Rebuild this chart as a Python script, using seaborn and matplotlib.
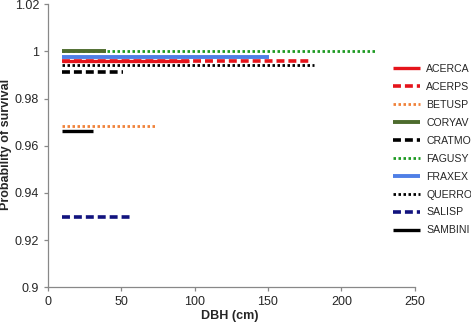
import pandas as pd
import numpy as np
import matplotlib
matplotlib.use('Agg')
import matplotlib.pyplot as plt
import seaborn as sns

sns.set_style('white')
plt.rcParams['font.family'] = ['Liberation Sans', 'DejaVu Sans']

# species, survival probability and DBH range
species = ['ACERCA', 'ACERPS', 'BETUSP', 'CORYAV', 'CRATMO',
           'FAGUSY', 'FRAXEX', 'QUERRO', 'SALISP', 'SAMBINI']
surv = [0.996, 0.996, 0.9685, 1.0, 0.9913, 1.0, 0.9977, 0.9944, 0.9297, 0.9663]
dbh_min = [10, 10, 10, 10, 10, 10, 10, 10, 10, 10]
dbh_max = [96, 179, 74, 40, 51, 223, 151, 181, 56, 31]

colors = ['#e5141b', '#e5141b', '#f0823a', '#4d6b2d', '#000000',
          '#1d9a22', '#4f7fe6', '#000000', '#11137e', '#000000']
styles = ['-', (0, (2.2, 1.1)), (0, (0.9, 0.9)), '-', (0, (2.2, 1.1)),
          (0, (0.9, 0.9)), '-', (0, (0.9, 0.9)), (0, (2.2, 1.1)), '-']
widths = [2.4, 2.6, 2.0, 2.8, 2.6, 2.0, 2.8, 2.0, 2.6, 2.4]

rows = []
for s, p, a, b in zip(species, surv, dbh_min, dbh_max):
    rows.append({'Species': s, 'DBH': a, 'P': p})
    rows.append({'Species': s, 'DBH': b, 'P': p})
df = pd.DataFrame(rows)

fig = plt.figure(figsize=(4.71, 3.25), dpi=100)
ax = fig.add_axes([0.101, 0.116, 0.780, 0.871])

# draw order so the blue line sits over the red ones like the original
order = [5, 3, 6, 0, 1, 7, 4, 2, 9, 8]
for i in order:
    sub = df[df['Species'] == species[i]]
    sns.lineplot(data=sub, x='DBH', y='P', ax=ax, color=colors[i],
                 linestyle=styles[i], linewidth=widths[i], label=species[i],
                 solid_capstyle='butt', dash_capstyle='butt')

ax.set_xlim(0, 250)
ax.set_ylim(0.9, 1.02)
ax.set_xticks([0, 50, 100, 150, 200, 250])
ax.set_yticks([0.9, 0.92, 0.94, 0.96, 0.98, 1.0, 1.02])
ax.set_yticklabels(['0.9', '0.92', '0.94', '0.96', '0.98', '1', '1.02'])
ax.tick_params(labelsize=9, length=3, width=0.9, color='#888888',
               direction='out', bottom=True, left=True, pad=3)
ax.set_xlabel('DBH (cm)', fontsize=9, fontweight='bold', va='center')
ax.set_ylabel('Probability of survival', fontsize=9, fontweight='bold',
              va='center')
ax.xaxis.set_label_coords(0.497, -0.102)
ax.yaxis.set_label_coords(-0.113, 0.506)
sns.despine(ax=ax)
for sp in ['left', 'bottom']:
    ax.spines[sp].set_color('#888888')
    ax.spines[sp].set_linewidth(0.9)

# legend in original species order
h, l = ax.get_legend_handles_labels()
lookup = dict(zip(l, h))
ax.legend([lookup[s] for s in species], species, loc='upper left',
          bbox_to_anchor=(0.815, 0.832), bbox_transform=fig.transFigure,
          frameon=False, fontsize=7.6, handlelength=2.5, handletextpad=0.6,
          labelspacing=0.75)

fig.savefig('out.png', dpi=100)
